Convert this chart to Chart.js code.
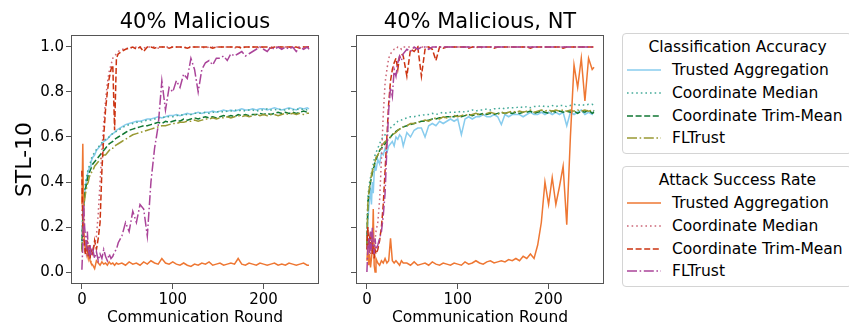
<!DOCTYPE html>
<html>
<head>
<meta charset="utf-8">
<script src="https://cdn.jsdelivr.net/npm/chart.js@4"></script>
<style>
  html, body { margin: 0; padding: 0; background: #fff; }
  body { width: 849px; height: 326px; position: relative; overflow: hidden; font-family: "DejaVu Sans", sans-serif; color: #000; }
  canvas { position: absolute; top: 0; }
  #c1 { left: 0; }
  #c2 { left: 330px; }
  .legend { position: absolute; left: 622px; width: 230px; height: 121px; border: 1px solid #d4d4d4; border-radius: 4px; box-sizing: border-box; background: #fff; }
  .ltitle { position: absolute; left: 0; width: 229px; top: 3px; line-height: 20px; text-align: center; font-size: 15.5px; }
  .ltext { position: absolute; left: 49px; line-height: 20px; font-size: 15.5px; white-space: nowrap; }
  .lsample { position: absolute; left: 4px; }
</style>
</head>
<body>
<canvas id="c1" width="330" height="326"></canvas>
<canvas id="c2" width="280" height="326"></canvas>
<script>
const rounds = [0,1,2,3,4,5,6,7,8,9,10,
  12,14,16,18,20,22,24,26,28,30,32,34,36,38,40,
  44,48,52,56,60,64,68,72,76,80,84,88,92,96,100,
  104,108,112,116,120,124,128,132,136,140,144,148,152,156,160,
  164,168,172,176,180,184,188,192,196,200,204,208,212,216,220,
  224,228,232,236,240,244,248,250];

const xTicks = [0, 100, 200];
const yTicks = [0, 0.2, 0.4, 0.6, 0.8, 1.0];

const methods = ['Trusted Aggregation', 'Coordinate Median', 'Coordinate Trim-Mean', 'FLTrust'];

// ---- 40% Malicious ----
const leftAccTrusted = [0.12,0.26,0.31,0.35,0.38,0.41,0.43,0.45,0.46,0.47,0.49,
  0.51,0.52,0.54,0.55,0.56,0.57,0.58,0.585,0.59,0.6,0.61,0.615,0.62,0.63,0.635,
  0.645,0.655,0.66,0.665,0.67,0.67,0.675,0.68,0.68,0.685,0.69,0.685,0.69,0.695,0.695,
  0.7,0.695,0.7,0.705,0.7,0.705,0.71,0.705,0.71,0.71,0.715,0.71,0.715,0.72,0.715,
  0.72,0.715,0.72,0.725,0.72,0.72,0.725,0.72,0.725,0.725,0.72,0.725,0.73,0.725,0.72,
  0.725,0.73,0.725,0.72,0.73,0.725,0.73,0.725];
const leftAccMedian = [0.14,0.28,0.33,0.37,0.4,0.42,0.44,0.46,0.47,0.48,0.5,
  0.52,0.53,0.545,0.555,0.565,0.575,0.58,0.59,0.595,0.6,0.61,0.615,0.62,0.625,0.63,
  0.64,0.65,0.655,0.66,0.665,0.665,0.67,0.675,0.675,0.68,0.685,0.685,0.69,0.69,0.69,
  0.695,0.695,0.7,0.7,0.7,0.705,0.705,0.705,0.71,0.705,0.71,0.71,0.715,0.71,0.715,
  0.715,0.72,0.715,0.72,0.715,0.72,0.72,0.715,0.72,0.72,0.725,0.72,0.72,0.725,0.72,
  0.72,0.725,0.72,0.725,0.72,0.725,0.72,0.72];
const leftAccTrim = [0.1,0.24,0.3,0.34,0.37,0.39,0.41,0.43,0.44,0.45,0.46,
  0.48,0.49,0.5,0.51,0.52,0.53,0.54,0.55,0.56,0.57,0.575,0.58,0.59,0.595,0.6,
  0.61,0.62,0.63,0.635,0.64,0.645,0.65,0.65,0.655,0.66,0.665,0.66,0.67,0.665,0.67,
  0.675,0.67,0.68,0.675,0.68,0.685,0.68,0.685,0.69,0.685,0.69,0.685,0.69,0.695,0.69,
  0.695,0.69,0.7,0.695,0.7,0.695,0.7,0.7,0.705,0.7,0.705,0.7,0.705,0.71,0.705,
  0.71,0.705,0.71,0.705,0.71,0.715,0.71,0.71];
const leftAccFLTrust = [0.09,0.22,0.28,0.32,0.35,0.37,0.39,0.4,0.42,0.43,0.44,
  0.45,0.47,0.48,0.49,0.5,0.51,0.52,0.52,0.53,0.54,0.55,0.55,0.56,0.565,0.57,
  0.58,0.59,0.6,0.61,0.615,0.62,0.625,0.63,0.635,0.64,0.645,0.65,0.65,0.655,0.66,
  0.66,0.665,0.665,0.67,0.67,0.675,0.67,0.675,0.68,0.68,0.685,0.68,0.685,0.685,0.69,
  0.685,0.69,0.695,0.69,0.695,0.69,0.695,0.7,0.695,0.7,0.695,0.7,0.7,0.695,0.7,
  0.705,0.7,0.705,0.7,0.705,0.7,0.705,0.705];

const leftAsrTrusted = [0.3,0.57,0.2,0.12,0.1,0.14,0.08,0.06,0.09,0.05,0.04,
  0.03,0.015,0.05,0.04,0.03,0.045,0.035,0.04,0.03,0.045,0.035,0.04,0.03,0.04,0.035,
  0.04,0.03,0.045,0.035,0.04,0.03,0.045,0.035,0.05,0.04,0.035,0.06,0.04,0.035,0.045,
  0.035,0.03,0.04,0.03,0.025,0.035,0.03,0.04,0.035,0.045,0.03,0.035,0.04,0.03,0.035,
  0.04,0.035,0.06,0.035,0.03,0.04,0.035,0.03,0.04,0.035,0.03,0.035,0.04,0.03,0.035,
  0.03,0.04,0.035,0.03,0.035,0.04,0.03,0.03];
const leftAsrMedian = [0.25,0.32,0.15,0.1,0.12,0.08,0.1,0.07,0.09,0.1,0.08,
  0.1,0.12,0.16,0.26,0.4,0.54,0.66,0.76,0.84,0.89,0.92,0.95,0.96,0.97,0.98,
  0.99,0.99,1.0,0.995,1.0,1.0,0.995,1.0,1.0,1.0,0.995,1.0,1.0,1.0,1.0,
  1.0,1.0,0.995,1.0,1.0,1.0,1.0,1.0,0.995,1.0,1.0,1.0,1.0,1.0,1.0,
  1.0,0.995,1.0,1.0,1.0,1.0,1.0,1.0,0.995,1.0,1.0,1.0,1.0,1.0,1.0,
  1.0,1.0,0.995,1.0,1.0,1.0,1.0,1.0];
const leftAsrTrim = [0.45,0.2,0.15,0.12,0.08,0.1,0.14,0.07,0.12,0.06,0.1,
  0.08,0.14,0.1,0.15,0.22,0.45,0.6,0.72,0.8,0.86,0.9,0.92,0.63,0.95,0.97,
  0.98,0.99,0.995,1.0,0.99,1.0,0.98,1.0,1.0,0.995,1.0,1.0,1.0,0.995,1.0,
  1.0,1.0,1.0,0.995,1.0,1.0,1.0,1.0,1.0,1.0,0.995,1.0,1.0,1.0,1.0,
  1.0,1.0,1.0,0.995,1.0,1.0,1.0,1.0,1.0,1.0,1.0,0.995,1.0,1.0,1.0,
  1.0,1.0,1.0,1.0,0.995,1.0,1.0,1.0];
const leftAsrFLTrust = [0.01,0.12,0.3,0.2,0.15,0.12,0.18,0.1,0.08,0.12,0.07,
  0.1,0.06,0.09,0.05,0.08,0.06,0.1,0.07,0.05,0.08,0.06,0.07,0.09,0.1,0.13,
  0.16,0.22,0.18,0.27,0.22,0.3,0.28,0.16,0.4,0.55,0.65,0.85,0.72,0.82,0.8,
  0.85,0.82,0.88,0.86,0.95,0.9,0.8,0.9,0.93,0.94,0.92,0.95,0.95,0.96,0.94,
  0.97,0.96,0.97,0.98,0.96,0.97,0.98,0.99,1.0,0.99,0.98,1.0,0.99,1.0,0.99,
  1.0,0.99,1.0,0.98,1.0,0.99,1.0,0.99];

// ---- 40% Malicious, NT ----
const rightAccTrusted = [0.1,0.22,0.28,0.33,0.36,0.3,0.4,0.35,0.44,0.47,0.45,
  0.5,0.48,0.53,0.52,0.55,0.53,0.56,0.57,0.58,0.56,0.6,0.59,0.61,0.6,0.56,
  0.62,0.6,0.63,0.64,0.64,0.6,0.65,0.66,0.65,0.67,0.66,0.67,0.68,0.67,0.68,
  0.61,0.68,0.69,0.68,0.69,0.69,0.7,0.69,0.69,0.7,0.69,0.655,0.7,0.69,0.7,
  0.7,0.7,0.69,0.7,0.71,0.7,0.7,0.71,0.7,0.71,0.7,0.71,0.7,0.71,0.65,
  0.71,0.7,0.71,0.72,0.7,0.71,0.7,0.72];
const rightAccMedian = [0.15,0.33,0.37,0.4,0.42,0.44,0.46,0.48,0.5,0.52,0.53,
  0.55,0.57,0.59,0.6,0.61,0.62,0.63,0.64,0.65,0.655,0.66,0.67,0.675,0.675,0.68,
  0.685,0.69,0.69,0.695,0.695,0.7,0.7,0.705,0.7,0.705,0.71,0.705,0.71,0.71,0.71,
  0.715,0.71,0.715,0.72,0.715,0.72,0.72,0.725,0.72,0.725,0.725,0.73,0.725,0.73,0.73,
  0.73,0.735,0.73,0.735,0.73,0.735,0.735,0.74,0.735,0.735,0.74,0.735,0.74,0.74,0.735,
  0.74,0.745,0.74,0.745,0.74,0.745,0.745,0.74];
const rightAccTrim = [0.12,0.3,0.34,0.37,0.4,0.42,0.44,0.46,0.47,0.49,0.5,
  0.52,0.54,0.55,0.56,0.57,0.58,0.59,0.6,0.61,0.62,0.625,0.63,0.635,0.64,0.645,
  0.65,0.655,0.66,0.665,0.67,0.67,0.675,0.68,0.68,0.685,0.685,0.69,0.69,0.69,0.695,
  0.69,0.695,0.7,0.695,0.7,0.7,0.705,0.7,0.705,0.7,0.705,0.71,0.705,0.71,0.705,
  0.71,0.705,0.71,0.71,0.715,0.705,0.71,0.715,0.71,0.705,0.715,0.71,0.715,0.71,0.715,
  0.71,0.715,0.705,0.715,0.71,0.72,0.705,0.71];
const rightAccFLTrust = [0.12,0.3,0.35,0.38,0.41,0.43,0.45,0.46,0.48,0.49,0.51,
  0.52,0.54,0.56,0.57,0.58,0.585,0.59,0.6,0.61,0.615,0.62,0.63,0.635,0.64,0.645,
  0.65,0.66,0.66,0.665,0.67,0.675,0.67,0.68,0.685,0.68,0.69,0.685,0.69,0.695,0.69,
  0.695,0.7,0.695,0.7,0.705,0.7,0.7,0.705,0.71,0.705,0.7,0.71,0.705,0.71,0.715,
  0.71,0.715,0.71,0.715,0.72,0.71,0.715,0.72,0.715,0.72,0.715,0.72,0.715,0.72,0.715,
  0.72,0.715,0.72,0.715,0.72,0.715,0.72,0.715];

const rightAsrTrusted = [0.05,0.12,0.03,0.08,0.02,0.06,0.1,0.28,0.03,0.0,0.06,
  0.04,0.03,0.05,0.04,0.06,0.04,0.05,0.15,0.05,0.04,0.05,0.04,0.03,0.05,0.04,
  0.04,0.03,0.045,0.03,0.035,0.04,0.03,0.045,0.035,0.03,0.04,0.035,0.03,0.04,0.035,
  0.03,0.045,0.035,0.04,0.05,0.04,0.035,0.045,0.05,0.04,0.045,0.05,0.045,0.055,0.05,
  0.06,0.05,0.07,0.06,0.08,0.06,0.12,0.22,0.4,0.3,0.42,0.3,0.38,0.47,0.21,
  0.6,0.92,0.82,0.95,0.76,0.95,0.9,0.91];
const rightAsrMedian = [0.15,0.2,0.1,0.12,0.08,0.15,0.1,0.12,0.1,0.14,0.18,
  0.22,0.32,0.5,0.7,0.84,0.9,0.95,0.97,0.98,0.99,0.99,1.0,1.0,0.99,1.0,
  1.0,1.0,0.995,1.0,1.0,1.0,1.0,0.995,1.0,1.0,1.0,1.0,1.0,1.0,1.0,
  1.0,1.0,1.0,1.0,1.0,0.995,1.0,1.0,1.0,1.0,1.0,1.0,1.0,1.0,1.0,
  1.0,1.0,1.0,1.0,1.0,1.0,1.0,1.0,1.0,1.0,1.0,1.0,1.0,1.0,1.0,
  1.0,1.0,1.0,1.0,1.0,1.0,1.0,1.0];
const rightAsrTrim = [0.1,0.2,0.12,0.15,0.1,0.18,0.08,0.12,0.06,0.1,0.08,
  0.1,0.14,0.2,0.3,0.45,0.6,0.75,0.85,0.9,0.93,0.95,0.9,0.96,0.97,0.96,
  0.87,0.99,0.98,1.0,0.87,0.99,1.0,0.99,0.94,1.0,0.995,1.0,1.0,1.0,1.0,
  1.0,1.0,0.995,1.0,1.0,1.0,1.0,1.0,1.0,0.995,1.0,1.0,1.0,1.0,1.0,
  1.0,1.0,1.0,1.0,0.995,1.0,1.0,1.0,1.0,1.0,1.0,1.0,1.0,0.995,1.0,
  1.0,1.0,1.0,1.0,1.0,1.0,1.0,1.0];
const rightAsrFLTrust = [0.0,0.1,0.15,0.08,0.18,0.1,0.2,0.12,0.08,0.15,0.1,
  0.12,0.15,0.18,0.25,0.35,0.55,0.72,0.82,0.78,0.9,0.87,0.93,0.96,0.94,0.97,
  0.99,0.98,1.0,0.99,1.0,1.0,0.99,1.0,1.0,1.0,1.0,1.0,1.0,1.0,1.0,
  1.0,1.0,1.0,1.0,1.0,1.0,1.0,1.0,1.0,1.0,1.0,1.0,1.0,1.0,1.0,
  1.0,1.0,1.0,1.0,1.0,1.0,1.0,1.0,1.0,1.0,1.0,1.0,1.0,1.0,1.0,
  1.0,1.0,1.0,1.0,1.0,1.0,1.0,1.0];

const accColors = ['#88CCEE', '#44AA99', '#117733', '#999933'];
const asrColors = ['#EE7733', '#CC6677', '#CC3311', '#AA4499'];
const dashes = [[], [1.6, 3.0], [6, 2.6], [10, 2.6, 1.6, 2.6]];

Chart.defaults.font.family = "'DejaVu Sans', sans-serif";
Chart.defaults.color = '#000';

// draw all four spines like matplotlib
const framePlugin = {
  id: 'frame',
  afterDatasetsDraw(chart) {
    const { ctx, chartArea: a } = chart;
    ctx.save();
    ctx.strokeStyle = '#555';
    ctx.lineWidth = 1;
    ctx.strokeRect(Math.round(a.left) + 0.5, Math.round(a.top) + 0.5,
      Math.round(a.right - a.left) - 1, Math.round(a.bottom - a.top) - 1);
    ctx.restore();
  }
};

function makeDatasets(acc, asr) {
  const list = [];
  acc.forEach((vals, i) => list.push({ vals, color: accColors[i], dash: dashes[i], label: methods[i] + ' (acc)' }));
  asr.forEach((vals, i) => list.push({ vals, color: asrColors[i], dash: dashes[i], label: methods[i] + ' (asr)' }));
  return list.map((s, i) => ({
    label: s.label,
    data: rounds.map((r, k) => ({ x: r, y: s.vals[k] })),
    borderColor: s.color,
    backgroundColor: s.color,
    borderDash: s.dash,
    borderWidth: 1.5,
    pointRadius: 0,
    tension: 0,
    fill: false,
    order: list.length - i
  }));
}

function makeChart(id, title, acc, asr, yWidth, padRight, showY) {
  new Chart(document.getElementById(id), {
    type: 'line',
    data: { datasets: makeDatasets(acc, asr) },
    options: {
      responsive: false,
      animation: false,
      devicePixelRatio: 1,
      layout: { padding: { left: 0, right: padRight, top: 0, bottom: 0 } },
      plugins: {
        legend: { display: false },
        tooltip: { enabled: false },
        title: {
          display: true,
          text: title,
          fullSize: false,
          font: { size: 21, weight: 'normal' },
          color: '#000',
          padding: { top: 9.8, bottom: 0 }
        }
      },
      scales: {
        x: {
          type: 'linear',
          min: -12,
          max: 261,
          afterBuildTicks: s => { s.ticks = xTicks.map(v => ({ value: v })); },
          afterFit: s => { s.height = 42; },
          ticks: { font: { size: 15 }, color: '#000', padding: 2 },
          grid: { display: true, drawOnChartArea: false, drawTicks: true, tickLength: 5, color: '#555' },
          border: { display: false },
          title: { display: true, text: 'Communication Round', font: { size: 15.5, lineHeight: 1 }, color: '#000', padding: 0 }
        },
        y: {
          type: 'linear',
          min: -0.0533,
          max: 1.0533,
          afterBuildTicks: s => { s.ticks = yTicks.map(v => ({ value: v })); },
          afterFit: s => { s.width = yWidth; },
          ticks: { display: showY, font: { size: 15 }, color: '#000', padding: 2, callback: v => v.toFixed(1) },
          grid: { display: true, drawOnChartArea: false, drawTicks: true, tickLength: 5, color: '#555' },
          border: { display: false },
          title: { display: showY, text: 'STL-10', font: { size: 22 }, color: '#000', padding: { top: 12, bottom: 0 } }
        }
      }
    },
    plugins: [framePlugin]
  });
}

makeChart('c1', '40% Malicious',
  [leftAccTrusted, leftAccMedian, leftAccTrim, leftAccFLTrust],
  [leftAsrTrusted, leftAsrMedian, leftAsrTrim, leftAsrFLTrust], 71, 11, true);
makeChart('c2', '40% Malicious, NT',
  [rightAccTrusted, rightAccMedian, rightAccTrim, rightAccFLTrust],
  [rightAsrTrusted, rightAsrMedian, rightAsrTrim, rightAsrFLTrust], 26, 6, false);

// two legend boxes on the right
function buildLegend(top, title, colors) {
  const box = document.createElement('div');
  box.className = 'legend';
  box.style.top = top + 'px';
  let html = '<div class="ltitle">' + title + '</div>';
  methods.forEach((m, i) => {
    const y = 36 + i * 22.8;
    html += '<svg class="lsample" style="top:' + (y - 3) + 'px" width="34" height="6">' +
      '<line x1="0" y1="3" x2="34" y2="3" stroke="' + colors[i] + '" stroke-width="1.5" stroke-dasharray="' +
      (dashes[i].length ? dashes[i].join(' ') : 'none') + '"/></svg>';
    html += '<div class="ltext" style="top:' + (y - 10) + 'px">' + m + '</div>';
  });
  box.innerHTML = html;
  document.body.appendChild(box);
}
buildLegend(33, 'Classification Accuracy', accColors);
buildLegend(166, 'Attack Success Rate', asrColors);
</script>
</body>
</html>
